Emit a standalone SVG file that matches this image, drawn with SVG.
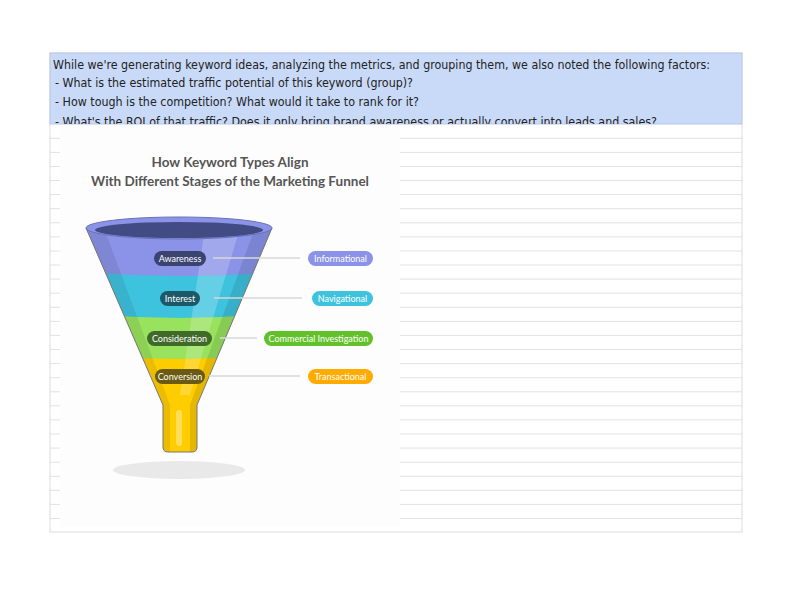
<svg xmlns="http://www.w3.org/2000/svg" width="792" height="612" viewBox="0 0 792 612">
<defs>
<style>
.t{font-family:"DejaVu Sans","Liberation Sans",sans-serif;font-size:12.5px;fill:#222;font-stretch:condensed}
.ti{font-family:Lato,"Liberation Sans",sans-serif;font-weight:bold;font-size:13.5px;fill:#555;text-anchor:middle}
.pl{font-family:Lato,"Liberation Sans",sans-serif;font-size:9px;fill:#fff;text-anchor:middle}
.g{stroke:#e2e2e2;stroke-width:1}
.ln{stroke:#d8d8d8;stroke-width:1.5}
</style>
<clipPath id="hc"><rect x="50" y="53" width="692" height="71"/></clipPath>
<clipPath id="fc"><path d="M86,228 L163,405 L163,447 Q163,452 168,452 L192,452 Q197,452 197,447 L197,405 L272,228 Z"/></clipPath>
</defs>
<rect width="792" height="612" fill="#fff"/>
<g id="grid">
<rect x="50" y="53" width="692" height="479" fill="none" stroke="#ddd"/>
<path class="g" d="M50,138.3H742M50,152.4H742M50,166.5H742M50,180.5H742M50,194.6H742M50,208.7H742M50,222.8H742M50,236.9H742M50,251H742M50,265H742M50,279.1H742M50,293.2H742M50,307.3H742M50,321.4H742M50,335.4H742M50,349.5H742M50,363.6H742M50,377.7H742M50,391.8H742M50,405.8H742M50,419.9H742M50,434H742M50,448.1H742M50,462.2H742M50,476.3H742M50,490.3H742M50,504.4H742M50,518.5H742"/>
</g>
<g id="header">
<rect x="50" y="53" width="692" height="71" fill="#c9daf8" stroke="#b8c8e8"/>
<g clip-path="url(#hc)">
<text class="t" x="53" y="69" textLength="657" lengthAdjust="spacingAndGlyphs">While we're generating keyword ideas, analyzing the metrics, and grouping them, we also noted the following factors:</text>
<text class="t" x="55" y="87" textLength="358" lengthAdjust="spacingAndGlyphs">- What is the estimated traffic potential of this keyword (group)?</text>
<text class="t" x="55" y="106" textLength="364" lengthAdjust="spacingAndGlyphs">- How tough is the competition? What would it take to rank for it?</text>
<text class="t" x="55" y="126" textLength="602" lengthAdjust="spacingAndGlyphs">- What's the ROI of that traffic? Does it only bring brand awareness or actually convert into leads and sales?</text>
</g>
</g>
<g id="image">
<rect x="60" y="125" width="340" height="402" fill="#fdfdfd"/>
<text class="ti" x="230" y="167">How Keyword Types Align</text>
<text class="ti" x="230" y="186">With Different Stages of the Marketing Funnel</text>
<ellipse cx="179" cy="470" rx="66" ry="9" fill="#e9e9e9"/>
</g>
<g id="funnel">
<g clip-path="url(#fc)">
<rect x="80" y="220" width="200" height="240" fill="#ffcc00"/>
<path d="M80,220H280V353Q179,365 80,353Z" fill="#98e25e"/>
<path d="M80,220H280V313Q179,323 80,313Z" fill="#3ec3df"/>
<path d="M80,220H280V272Q179,280 80,272Z" fill="#8a93e8"/>
<path d="M86,228 L163,405 L163,452 L170,452 L170,405 L104,228Z" fill="#000" opacity="0.08"/>
<path d="M272,228 L197,405 L197,452 L190,452 L190,405 L255,228Z" fill="#000" opacity="0.1"/>
<path d="M205,228 L240,228 L190,395 L180,395Z" fill="#fff" opacity="0.2"/>
<rect x="176" y="410" width="6" height="36" rx="3" fill="#fff" opacity="0.35"/>
</g>
<path d="M86,228 L163,405 L163,447 Q163,452 168,452 L192,452 Q197,452 197,447 L197,405 L272,228" fill="none" stroke="#777" stroke-width="1"/>
<ellipse cx="179" cy="228" rx="93" ry="11" fill="#8a93e8" stroke="#6a72b8"/>
<ellipse cx="179" cy="230" rx="84" ry="8" fill="#434b85"/>
</g>
<g id="connectors">
<path class="ln" d="M213,258H300M214,298H302M220,338H257M209,376H300"/>
</g>
<g id="n-awareness"><rect x="154" y="251" width="52" height="15" rx="7.5" fill="#3b4371"/><text class="pl" x="180" y="261.5">Awareness</text></g>
<g id="n-interest"><rect x="160" y="291" width="40" height="15" rx="7.5" fill="#1c5868"/><text class="pl" x="180" y="301.5">Interest</text></g>
<g id="n-consideration"><rect x="147" y="331" width="65" height="15" rx="7.5" fill="#3f6a2a"/><text class="pl" x="179.5" y="341.5">Consideration</text></g>
<g id="n-conversion"><rect x="155" y="369" width="50" height="15" rx="7.5" fill="#6a5a12"/><text class="pl" x="180" y="379.5">Conversion</text></g>
<g id="n-informational"><rect x="308" y="251" width="65" height="15" rx="7.5" fill="#8a93e8"/><text class="pl" x="340.5" y="261.5">Informational</text></g>
<g id="n-navigational"><rect x="312" y="291" width="61" height="15" rx="7.5" fill="#3ec3df"/><text class="pl" x="342.5" y="301.5">Navigational</text></g>
<g id="n-commercial"><rect x="264" y="331" width="109" height="15" rx="7.5" fill="#62c12a"/><text class="pl" x="318.5" y="341.5">Commercial Investigation</text></g>
<g id="n-transactional"><rect x="308" y="369" width="65" height="15" rx="7.5" fill="#ffab00"/><text class="pl" x="340.5" y="379.5">Transactional</text></g>
</svg>
